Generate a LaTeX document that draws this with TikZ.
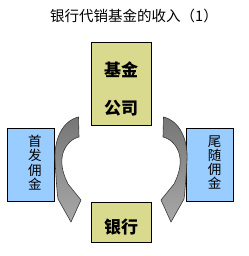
\documentclass[tikz,border=0pt]{standalone}
\usepackage{fontspec}
\newfontfamily\cjk{Noto Sans CJK SC}
\usepackage{tikz}
\definecolor{Khaki}{HTML}{DADA8E}
\definecolor{SkyBlue}{HTML}{99CCFF}
\definecolor{ArrowDark}{HTML}{767676}
\definecolor{ArrowLight}{HTML}{A8A8A8}
\definecolor{ArrowEdge}{HTML}{3A3A3A}
\newcommand{\bendarrow}{(78.5,117) .. controls (62,121) and (54,140) .. (55,160)
  .. controls (56,178) and (57,192) .. (58,199) -- (71,222) -- (81,200) -- (68,184)
  .. controls (64,176) and (61,167) .. (62,158) .. controls (63,148) and (70,139) .. (79,137) -- cycle}
\newcommand{\lowered}[1]{\raisebox{-5pt}[\height][\depth]{#1}}
\newcommand{\nudged}[1]{\hspace*{9pt}\raisebox{2pt}[\height][\depth]{#1}}

\begin{document}
\begin{tikzpicture}[x=1pt,y=-1pt,font=\cjk]
  \tikzset{party/.style={draw=black,fill=Khaki,minimum width=60pt,align=center,font=\cjk\bfseries\fontsize{17}{38}\selectfont},
           fee/.style={draw=black,fill=SkyBlue,minimum width=47pt,minimum height=73pt,align=center,font=\cjk\fontsize{13.5}{14.3}\selectfont},
           flow/.style={draw=ArrowEdge,line width=0.6pt,top color=ArrowDark,bottom color=ArrowLight}}
  \useasboundingbox (0,0) rectangle (248,256);
  \node[font=\cjk\fontsize{14.5}{16}\selectfont] (title) at (134,16) {银行代销基金的收入（1）};
  \node[party,minimum height=83pt] (fund) at (121,83.5) {\lowered{基金}\\\lowered{公司}};
  \node[party,minimum height=40pt] (bank) at (121,222) {\lowered{银行}};
  \node[fee] (front) at (30.5,164.5) {\nudged{首}\\\nudged{发}\\\nudged{佣}\\\nudged{金}};
  \node[fee] (trail) at (210,164.5) {\nudged{尾}\\\nudged{随}\\\nudged{佣}\\\nudged{金}};
  \path[flow] \bendarrow;
  \begin{scope}[xshift=242pt,xscale=-1]
    \path[flow] \bendarrow;
  \end{scope}
\end{tikzpicture}
\end{document}
